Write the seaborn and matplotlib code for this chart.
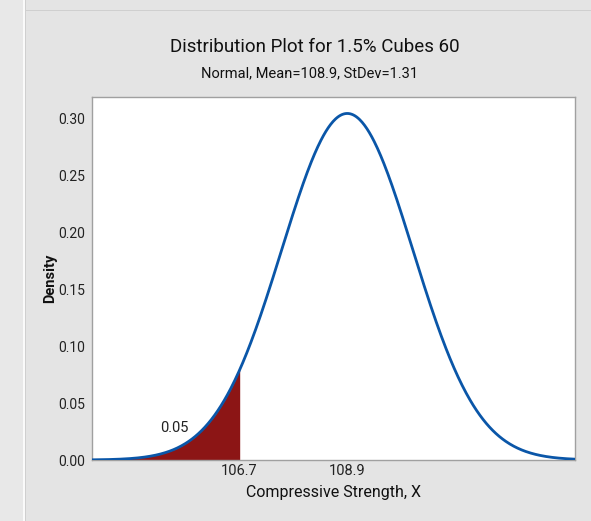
import numpy as np
import pandas as pd
import matplotlib
matplotlib.use("Agg")
import matplotlib.pyplot as plt
import seaborn as sns
from matplotlib.patches import Rectangle

# Distribution parameters
mean = 108.9
stdev = 1.31
tail_prob = 0.05
x_ticks = [106.7, 108.9]
y_ticks = [0.00, 0.05, 0.10, 0.15, 0.20, 0.25, 0.30]
x_range = [103.8, 113.45]

sns.set_theme(style="white")
plt.rcParams["font.family"] = ["Roboto", "DejaVu Sans"]

# Normal density curve
x = np.linspace(x_range[0], x_range[1], 600)
pdf = np.exp(-0.5 * ((x - mean) / stdev) ** 2) / (stdev * np.sqrt(2 * np.pi))
df = pd.DataFrame({"x": x, "density": pdf})
# lower 5% critical value (z = -1.6449)
crit = mean - 1.6449 * stdev
crit_pdf = np.exp(-0.5 * ((crit - mean) / stdev) ** 2) / (stdev * np.sqrt(2 * np.pi))

bg = "#e4e4e4"
fig = plt.figure(figsize=(5.91, 5.21), dpi=100, facecolor=bg)
# left side panel strip and frame lines
for (x0, y0, w, h, c) in [(0, 0, 23, 521, "#e8e8e8"), (23, 0, 2, 521, "#fafafa"),
                          (25, 0, 1, 521, "#cfcfcf"), (26, 10, 565, 1, "#cfcfcf")]:
    fig.patches.append(Rectangle((x0 / 591, 1 - (y0 + h) / 521), w / 591, h / 521,
                                 transform=fig.transFigure, facecolor=c,
                                 edgecolor="none", zorder=-5))

ax = fig.add_axes([92 / 591, 1 - 460 / 521, (575 - 92) / 591, (460 - 97) / 521])
ax.set_facecolor("white")

tail = df[df["x"] <= crit]
ax.fill_between(np.append(tail["x"], crit), 0, np.append(tail["density"], crit_pdf),
                color="#8c1515", linewidth=0, zorder=2)
ax.vlines(crit, 0, crit_pdf, color="#8c1515", linewidth=1, zorder=2)
sns.lineplot(data=df, x="x", y="density", ax=ax, color="#0a56a8", linewidth=2, zorder=3)

ax.set_xlim(x_range)
ax.set_ylim(0, 0.319)
ax.set_xticks([crit, mean])
ax.set_xticklabels([f"{v:.1f}" for v in x_ticks])
ax.set_yticks(y_ticks)
ax.set_yticklabels([f"{v:.2f}" for v in y_ticks])
ax.tick_params(axis="both", labelsize=10, colors="#222222", length=3, width=0.8,
               direction="out", color="#999999")
ax.tick_params(axis="x", labelsize=10.5, length=0, pad=3)
ax.tick_params(axis="y", pad=2)
for s in ax.spines.values():
    s.set_color("#a0a0a0")
    s.set_linewidth(1)

ax.set_xlabel("Compressive Strength, X", fontsize=11.5, color="#111111")
ax.xaxis.set_label_coords((333 - 92) / 483, -(492 - 460) / 363)
ax.set_ylabel("Density", fontsize=10.5, color="#111111", fontweight="bold")
ax.yaxis.set_label_coords(-(92 - 50) / 483, 0.5)
ax.yaxis.label.set_va("center")
ax.xaxis.label.set_va("center")

ax.text(105.44, 0.0285, f"{tail_prob:.2f}", fontsize=10.5, color="#222222",
        ha="center", va="center")

fig.text(315 / 591, 1 - 47 / 521, "Distribution Plot for 1.5% Cubes 60",
         fontsize=13.5, ha="center", va="center", color="#111111")
fig.text(310 / 591, 1 - 73 / 521, f"Normal, Mean={mean}, StDev={stdev}",
         fontsize=10.5, ha="center", va="center", color="#111111")

fig.savefig("out.png", dpi=100, facecolor=bg)
